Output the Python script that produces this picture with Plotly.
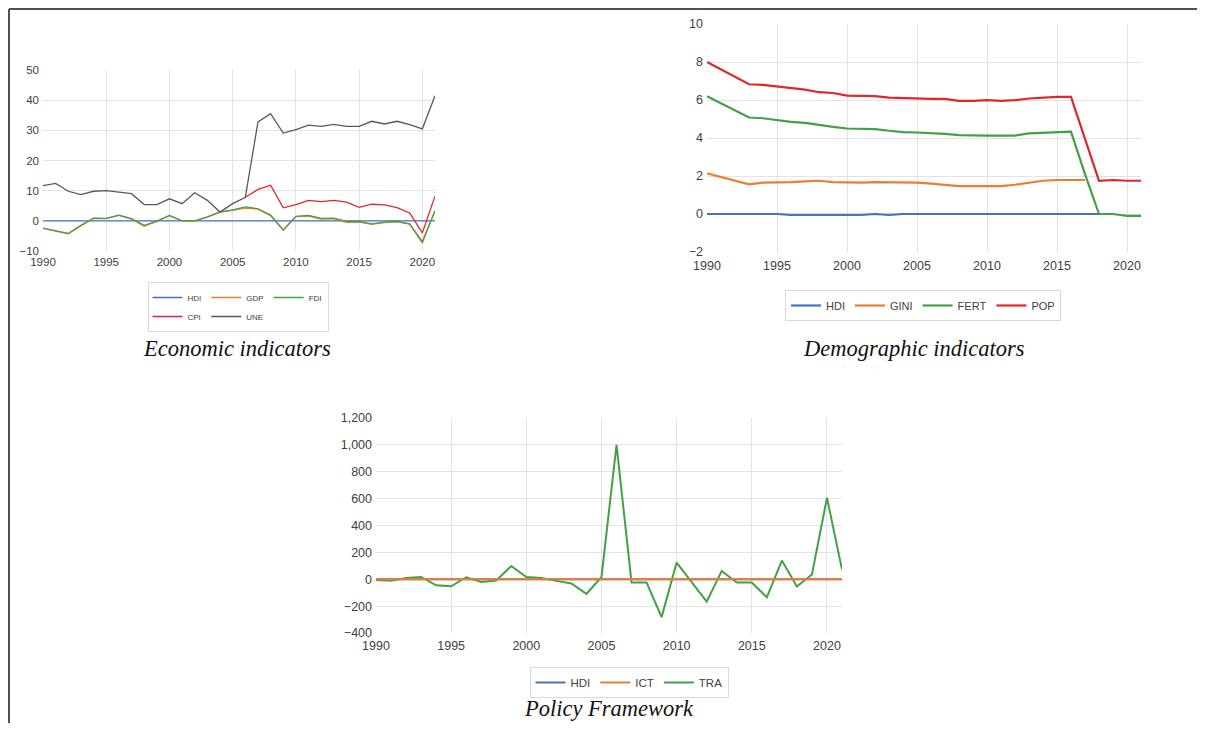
import plotly.graph_objects as go

# page body has an 8px margin: keep the figure inside the 1205x731 window
OFF = 8
FW, FH = 1205 - 2 * OFF, 731 - 2 * OFF

years = [1990, 1991, 1992, 1993, 1994, 1995, 1996, 1997, 1998, 1999,
         2000, 2001, 2002, 2003, 2004, 2005, 2006, 2007, 2008, 2009,
         2010, 2011, 2012, 2013, 2014, 2015, 2016, 2017, 2018, 2019,
         2020, 2021]

# ---- Economic indicators ----
econ_hdi = [0.0, 0.0, 0.0, 0.0, 0.0, 0.0, 0.0, 0.0, 0.0, 0.0,
            0.0, 0.0, 0.0, 0.0, 0.0, 0.0, 0.0, 0.0, 0.0, 0.0,
            0.0, 0.0, 0.0, 0.0, 0.0, 0.0, 0.0, 0.0, 0.0, 0.0,
            0.0, 0.0]
econ_gdp = [-2.5, -3.4, -4.3, -1.6, 0.8, 0.7, 1.8, 0.6, -1.8, -0.2,
            1.7, 0.0, 0.0, 1.2, 2.9, 3.5, 4.2, 3.9, 1.7, -3.1,
            1.4, 1.6, 0.6, 0.7, -0.5, -0.4, -1.2, -0.6, -0.3, -1.0,
            -6.8, 3.2]
econ_fdi = [-2.4, -3.3, -4.2, -1.5, 0.9, 0.8, 1.9, 0.7, -1.5, -0.1,
            1.8, 0.0, 0.0, 1.3, 3.0, 3.6, 4.6, 4.0, 1.9, -3.0,
            1.5, 1.8, 0.8, 0.9, -0.2, -0.2, -1.0, -0.4, -0.2, -1.1,
            -7.3, 3.4]
econ_cpi = [None, None, None, None, None, None, None, None, None, None,
            None, None, None, None, None, None, 7.8, 10.4, 11.8, 4.3,
            5.4, 6.8, 6.4, 6.8, 6.2, 4.5, 5.5, 5.3, 4.4, 2.6,
            -4.0, 8.2]
econ_une = [11.7, 12.4, 9.8, 8.7, 9.8, 10.0, 9.5, 9.0, 5.4, 5.4,
            7.3, 5.7, 9.3, 6.8, 2.9, 5.7, 7.8, 32.8, 35.5, 29.1,
            30.2, 31.7, 31.3, 32.0, 31.3, 31.3, 33.0, 32.1, 33.0, 31.9,
            30.5, 41.5]

# ---- Demographic indicators ----
demo_hdi = [0.0, 0.0, 0.0, 0.0, 0.0, 0.0, -0.05, -0.05, -0.05, -0.05,
            -0.05, -0.05, 0.0, -0.05, 0.0, 0.0, 0.0, 0.0, 0.0, 0.0,
            0.0, 0.0, 0.0, 0.0, 0.0, 0.0, 0.0, 0.0, 0.0, 0.0,
            None, None]
demo_gini = [2.14, 1.95, 1.75, 1.56, 1.65, 1.65, 1.68, 1.72, 1.75, 1.68,
             1.65, 1.65, 1.68, 1.68, 1.65, 1.65, 1.60, 1.54, 1.47, 1.47,
             1.47, 1.47, 1.54, 1.65, 1.75, 1.79, 1.79, 1.79, None, None,
             None, None]
demo_fert = [6.2, 5.83, 5.45, 5.08, 5.04, 4.94, 4.85, 4.8, 4.68, 4.59,
             4.5, 4.5, 4.47, 4.38, 4.31, 4.29, 4.26, 4.22, 4.15, 4.13,
             4.13, 4.13, 4.13, 4.24, 4.27, 4.33, 4.33, 2.1, 0.0, 0.0,
             -0.1, -0.1]
demo_pop = [8.0, 7.6, 7.2, 6.83, 6.8, 6.72, 6.65, 6.55, 6.41, 6.37,
            6.23, 6.2, 6.2, 6.13, 6.1, 6.06, 6.06, 6.06, 5.95, 5.95,
            5.99, 5.95, 5.99, 6.08, 6.13, 6.16, 6.16, 3.96, 1.75, 1.79,
            1.75, 1.75]

# ---- Policy Framework ----
pol_hdi = [0, 0, 0, 0, 0, 0, 0, 0, 0, 0,
           0, 0, 0, 0, 0, 0, 0, 0, 0, 0,
           0, 0, 0, 0, 0, 0, 0, 0, 0, 0,
           0, 0]
pol_ict = [0, 0, 0, 0, 0, 0, 0, 0, 0, 0,
           0, 0, 0, 0, 0, 0, 0, 0, 0, 0,
           0, 0, 0, 0, 0, 0, 0, 0, 0, 0,
           0, 0]
pol_tra = [-5, -12, 10, 17, -45, -52, 15, -20, -10, 99,
           17, 10, -12, -32, -109, 17, 1000, -25, -25, -282,
           124, -20, -166, 62, -25, -25, -134, 139, -54, 35,
           606, 72]

BLUE = "#4472C4"
ORANGE = "#ED7D31"
GREEN = "#43A047"
RED = "#E0262B"
GRAY = "#595959"

fig = go.Figure()

# Economic
w1 = 1.3
fig.add_trace(go.Scatter(x=years, y=econ_hdi, name="HDI", mode="lines", line=dict(color=BLUE, width=w1),
                         xaxis="x", yaxis="y", legend="legend", legendgroup="e1"))
fig.add_trace(go.Scatter(x=years, y=econ_gdp, name="GDP", mode="lines", line=dict(color=ORANGE, width=w1),
                         xaxis="x", yaxis="y", legend="legend", legendgroup="e2"))
fig.add_trace(go.Scatter(x=years, y=econ_fdi, name="FDI", mode="lines", line=dict(color=GREEN, width=w1),
                         xaxis="x", yaxis="y", legend="legend", legendgroup="e3"))
fig.add_trace(go.Scatter(x=years, y=econ_cpi, name="CPI", mode="lines", line=dict(color=RED, width=w1),
                         xaxis="x", yaxis="y", legend="legend", legendgroup="e1"))
fig.add_trace(go.Scatter(x=years, y=econ_une, name="UNE", mode="lines", line=dict(color=GRAY, width=w1),
                         xaxis="x", yaxis="y", legend="legend", legendgroup="e2"))

# Demographic
w2 = 2.2
fig.add_trace(go.Scatter(x=years, y=demo_hdi, name="HDI", mode="lines", line=dict(color=BLUE, width=w2),
                         xaxis="x2", yaxis="y2", legend="legend2"))
fig.add_trace(go.Scatter(x=years, y=demo_gini, name="GINI", mode="lines", line=dict(color=ORANGE, width=w2),
                         xaxis="x2", yaxis="y2", legend="legend2"))
fig.add_trace(go.Scatter(x=years, y=demo_fert, name="FERT", mode="lines", line=dict(color=GREEN, width=w2),
                         xaxis="x2", yaxis="y2", legend="legend2"))
fig.add_trace(go.Scatter(x=years, y=demo_pop, name="POP", mode="lines", line=dict(color=RED, width=w2),
                         xaxis="x2", yaxis="y2", legend="legend2"))

# Policy
w3 = 2.0
fig.add_trace(go.Scatter(x=years, y=pol_hdi, name="HDI", mode="lines", line=dict(color=BLUE, width=w3),
                         xaxis="x3", yaxis="y3", legend="legend3", legendrank=1))
fig.add_trace(go.Scatter(x=years, y=pol_tra, name="TRA", mode="lines", line=dict(color=GREEN, width=w3),
                         xaxis="x3", yaxis="y3", legend="legend3", legendrank=3))
fig.add_trace(go.Scatter(x=years, y=pol_ict, name="ICT", mode="lines", line=dict(color=ORANGE, width=w3),
                         xaxis="x3", yaxis="y3", legend="legend3", legendrank=2))


def px(xp):
    return (xp - OFF) / FW


def py(yp):
    return 1 - (yp - OFF) / FH


TICKC = "#404040"
GRID = "#e3e3e3"
FONT = "Liberation Sans"


def xax(domain, size, anchor, standoff=2):
    return dict(domain=domain, range=[1990, 2021], tick0=1990, dtick=5, showgrid=True, gridcolor=GRID,
                zeroline=False, showline=False, ticks="", automargin=False, ticklabelstandoff=standoff,
                tickfont=dict(size=size, color=TICKC, family=FONT), anchor=anchor, fixedrange=True)


def yax(domain, rng, dtick, size, anchor, fmt=None):
    d = dict(domain=domain, range=rng, dtick=dtick, showgrid=True, gridcolor=GRID, zeroline=False,
             showline=False, ticks="", automargin=False, ticklabelstandoff=3,
             tickfont=dict(size=size, color=TICKC, family=FONT), anchor=anchor, fixedrange=True)
    if fmt:
        d["tickformat"] = fmt
    return d


fig.update_layout(
    width=FW, height=FH,
    autosize=False,
    margin=dict(l=0, r=0, t=0, b=0, pad=0, autoexpand=False),
    paper_bgcolor="white", plot_bgcolor="white",
    font=dict(family=FONT, color=TICKC),
    xaxis=xax([px(43), px(435)], 11.5, "y"),
    yaxis=yax([py(251), py(70)], [-10, 50], 10, 11.5, "x"),
    xaxis2=xax([px(707), px(1141)], 12.5, "y2", standoff=4),
    yaxis2=yax([py(252), py(24)], [-2, 10], 2, 12.5, "x2"),
    xaxis3=xax([px(376), px(842)], 12.5, "y3", standoff=3),
    yaxis3=yax([py(633), py(418)], [-400, 1200], 200, 12.5, "x3", ",d"),
    legend=dict(orientation="h", traceorder="grouped", tracegroupgap=6,
                x=px(238), xanchor="center", y=py(282), yanchor="top",
                font=dict(size=8, color=TICKC, family=FONT),
                bordercolor="#d9d9d9", borderwidth=1, bgcolor="white", itemwidth=30),
    legend2=dict(orientation="h", x=px(923), xanchor="center", y=py(290), yanchor="top",
                 font=dict(size=11, color=TICKC, family=FONT),
                 bordercolor="#d9d9d9", borderwidth=1, bgcolor="white", itemwidth=30),
    legend3=dict(orientation="h", traceorder="normal", x=px(629), xanchor="center", y=py(667), yanchor="top",
                 font=dict(size=11.5, color=TICKC, family=FONT),
                 bordercolor="#d9d9d9", borderwidth=1, bgcolor="white", itemwidth=30),
    showlegend=True,
)

titles = [("Economic indicators", 237, 348, "middle"),
          ("Demographic indicators", 914, 348, "middle"),
          ("Policy Framework", 609, 723, "bottom")]
for txt, tx, ty, ya in titles:
    fig.add_annotation(text="<i>" + txt + "</i>", x=px(tx), y=py(ty), xref="paper", yref="paper",
                       xanchor="center", yanchor=ya, showarrow=False,
                       font=dict(family="Liberation Serif", size=22.5, color="#111111"))

# frame lines of the page
fig.add_shape(type="line", xref="paper", yref="paper", x0=px(9), x1=px(9), y0=0, y1=py(9),
              line=dict(color="#505050", width=2))
fig.add_shape(type="line", xref="paper", yref="paper", x0=px(9), x1=1, y0=py(9), y1=py(9),
              line=dict(color="#505050", width=2))

fig.write_html("out.html")
